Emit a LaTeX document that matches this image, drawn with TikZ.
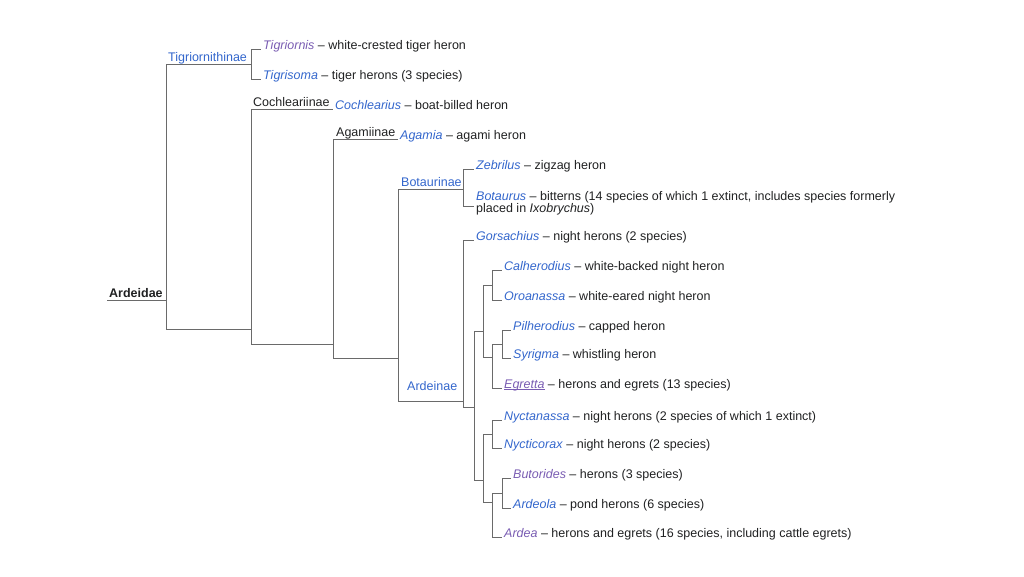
\documentclass[tikz,border=0pt]{standalone}
\usepackage{fontspec}
\setmainfont{Liberation Sans}
\usetikzlibrary{positioning}
\definecolor{linkblue}{HTML}{3366CC}
\definecolor{linkvisited}{HTML}{795CB2}
\definecolor{inkblack}{HTML}{202122}
\definecolor{branchgray}{HTML}{6A6A6A}
\newcommand{\gn}[1]{\textcolor{linkblue}{\textit{#1}}}
\newcommand{\vgn}[1]{\textcolor{linkvisited}{\textit{#1}}}
\tikzset{
    taxon/.style = {anchor=base west, inner xsep=2pt, inner ysep=0pt, text=inkblack, font=\fontsize{12.5}{11.5}\selectfont},
    cladename/.style = {anchor=base west, inner sep=0pt, text=linkblue, font=\fontsize{12.5}{14}\selectfont},
    cladeblack/.style = {cladename, text=inkblack},
    branch/.style = {draw=branchgray, line width=0.9pt},
}

\begin{document}
\begin{tikzpicture}[x=1pt,y=-1pt]
\useasboundingbox (0,0) rectangle (1024,576);
%
% branch points
\coordinate (rootstub) at (107,300);
\coordinate (ardeidae) at (166,300);
\coordinate (tigriornithinae) at (251,64);
\coordinate (sub1) at (251,329);
\coordinate (sub2) at (333,344);
\coordinate (sub3) at (398,358);
\coordinate (botaurinae) at (463,189);
\coordinate (ardeinae) at (463,401);
\coordinate (ardAB) at (474,407);
\coordinate (ardA) at (483,331);
\coordinate (calOro) at (492,285);
\coordinate (pilSyrEgr) at (492,357);
\coordinate (pilSyr) at (502,344);
\coordinate (ardB) at (483,480);
\coordinate (nycti) at (492,434);
\coordinate (butArdArd) at (492,502);
\coordinate (butArd) at (502,493);
%
% clade names
\node[cladeblack, font=\fontsize{12.5}{14}\selectfont\bfseries] (lArdeidae) at (109,297) {Ardeidae};
\node[cladename] (lTigriornithinae) at (168,61) {Tigriornithinae};
\node[cladeblack] (lCochleariinae) at (253,106) {Cochleariinae};
\node[cladeblack] (lAgamiinae) at (336,136) {Agamiinae};
\node[cladename] (lBotaurinae) at (401,186) {Botaurinae};
\node[cladename] (lArdeinae) at (407,390) {Ardeinae};
%
% genera
\node[taxon] (tigriornis) at (261,49) {\vgn{Tigriornis} – white-crested tiger heron};
\node[taxon] (tigrisoma) at (261,79) {\gn{Tigrisoma} – tiger herons (3 species)};
\node[taxon] (cochlearius) at (333,109) {\gn{Cochlearius} – boat-billed heron};
\node[taxon] (agamia) at (398,139) {\gn{Agamia} – agami heron};
\node[taxon] (zebrilus) at (474,169) {\gn{Zebrilus} – zigzag heron};
\node[taxon, anchor=north west, align=left] (botaurus) at (474,191) {\gn{Botaurus} – bitterns (14 species of which 1 extinct, includes species formerly\\placed in \textit{Ixobrychus})};
\node[taxon] (gorsachius) at (474,240) {\gn{Gorsachius} – night herons (2 species)};
\node[taxon] (calherodius) at (502,270) {\gn{Calherodius} – white-backed night heron};
\node[taxon] (oroanassa) at (502,300) {\gn{Oroanassa} – white-eared night heron};
\node[taxon] (pilherodius) at (511,330) {\gn{Pilherodius} – capped heron};
\node[taxon] (syrigma) at (511,358) {\gn{Syrigma} – whistling heron};
\node[taxon] (egretta) at (502,388) {\textcolor{linkvisited}{\underline{\smash{\textit{Egretta}}}} – herons and egrets (13 species)};
\node[taxon] (nyctanassa) at (502,420) {\gn{Nyctanassa} – night herons (2 species of which 1 extinct)};
\node[taxon] (nycticorax) at (502,448) {\gn{Nycticorax} – night herons (2 species)};
\node[taxon] (butorides) at (511,478) {\vgn{Butorides} – herons (3 species)};
\node[taxon] (ardeola) at (511,508) {\gn{Ardeola} – pond herons (6 species)};
\node[taxon] (ardea) at (502,537) {\vgn{Ardea} – herons and egrets (16 species, including cattle egrets)};
%
\draw[branch] (rootstub) -- (ardeidae);
\draw[branch] (ardeidae) |- (tigriornithinae);
\draw[branch] (ardeidae) |- (sub1);
\draw[branch] (tigriornithinae) |- (tigriornis.base west);
\draw[branch] (tigriornithinae) |- (tigrisoma.base west);
\draw[branch] (sub1) |- (cochlearius.base west);
\draw[branch] (sub1) |- (sub2);
\draw[branch] (sub2) |- (agamia.base west);
\draw[branch] (sub2) |- (sub3);
\draw[branch] (sub3) |- (botaurinae);
\draw[branch] (sub3) |- (ardeinae);
\draw[branch] (botaurinae) |- (zebrilus.base west);
\draw[branch] (botaurinae) |- ([yshift=-3.5pt]botaurus.west);
\draw[branch] (ardeinae) |- (gorsachius.base west);
\draw[branch] (ardeinae) |- (ardAB);
\draw[branch] (ardAB) |- (ardA);
\draw[branch] (ardAB) |- (ardB);
\draw[branch] (ardA) |- (calOro);
\draw[branch] (ardA) |- (pilSyrEgr);
\draw[branch] (calOro) |- (calherodius.base west);
\draw[branch] (calOro) |- (oroanassa.base west);
\draw[branch] (pilSyrEgr) |- (pilSyr);
\draw[branch] (pilSyrEgr) |- (egretta.base west);
\draw[branch] (pilSyr) |- (pilherodius.base west);
\draw[branch] (pilSyr) |- (syrigma.base west);
\draw[branch] (ardB) |- (nycti);
\draw[branch] (ardB) |- (butArdArd);
\draw[branch] (nycti) |- (nyctanassa.base west);
\draw[branch] (nycti) |- (nycticorax.base west);
\draw[branch] (butArdArd) |- (butArd);
\draw[branch] (butArdArd) |- (ardea.base west);
\draw[branch] (butArd) |- (butorides.base west);
\draw[branch] (butArd) |- (ardeola.base west);

\end{tikzpicture}
\end{document}
